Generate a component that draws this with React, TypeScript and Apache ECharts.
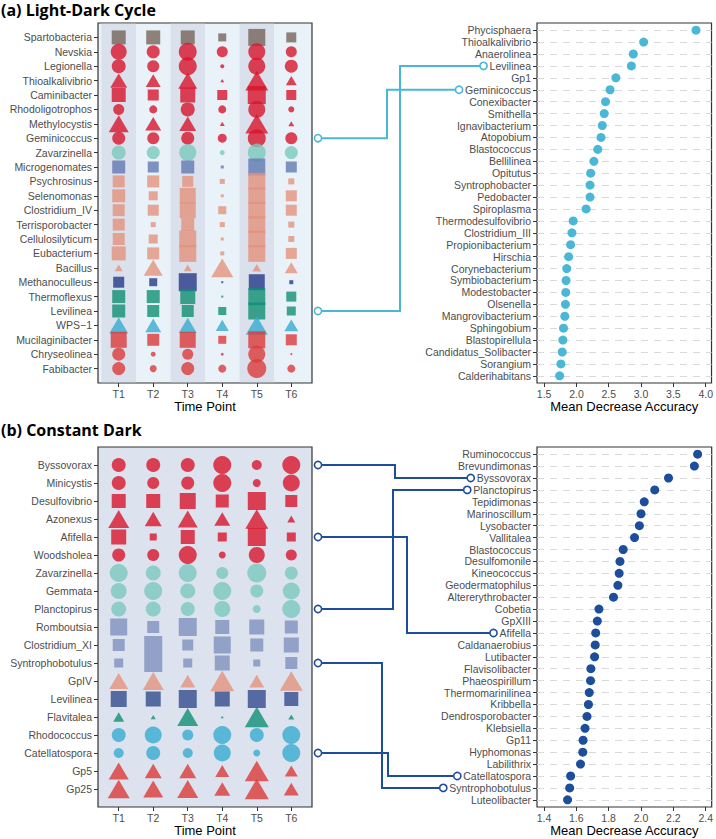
import React, { useEffect, useRef } from 'react';
import * as echarts from 'echarts';

const timePoints = ['T1', 'T2', 'T3', 'T4', 'T5', 'T6'];

// ---------- (a) Light-Dark Cycle ----------
const ldTaxa = [
  'Spartobacteria', 'Nevskia', 'Legionella', 'Thioalkalivibrio', 'Caminibacter', 'Rhodoligotrophos',
  'Methylocystis', 'Geminicoccus', 'Zavarzinella', 'Microgenomates', 'Psychrosinus', 'Selenomonas',
  'Clostridium_IV', 'Terrisporobacter', 'Cellulosilyticum', 'Eubacterium', 'Bacillus', 'Methanoculleus',
  'Thermoflexus', 'Levilinea', 'WPS\u22121', 'Mucilaginibacter', 'Chryseolinea', 'Fabibacter',
];
const ldShapes = [
  'rect', 'circle', 'circle', 'triangle', 'rect', 'circle', 'triangle', 'circle', 'circle', 'rect',
  'rect', 'rect', 'rect', 'rect', 'rect', 'rect', 'triangle', 'rect', 'rect', 'rect', 'triangle',
  'rect', 'circle', 'circle',
];
const ldGroups = [
  'grey', 'crimson', 'crimson', 'crimson', 'crimson', 'crimson', 'crimson', 'crimson', 'mint', 'slate',
  'salmon', 'salmon', 'salmon', 'salmon', 'salmon', 'salmon', 'salmon', 'navy', 'teal', 'teal', 'sky',
  'coral', 'coral', 'coral',
];
// relative abundance (marker size) per time point T1..T6
const ldAbund = [
  [14, 14, 14, 8, 17, 10],
  [16, 13, 18, 11, 17, 11],
  [14, 12, 18, 4, 17, 13],
  [17, 15, 19, 4, 23, 11],
  [14, 11, 15, 10, 18, 10],
  [11, 8, 14, 8, 17, 6],
  [20, 16, 17, 5, 23, 6],
  [13, 12, 13, 9, 18, 12],
  [14, 13, 17, 5, 18, 13],
  [13, 11, 13, 3, 17, 11],
  [12, 12, 11, 5, 17, 6],
  [13, 9, 16, 3, 17, 11],
  [12, 11, 16, 8, 17, 11],
  [12, 5, 13, 5, 17, 6],
  [12, 9, 17, 3, 17, 6],
  [14, 12, 17, 4, 17, 11],
  [8, 19, 8, 22, 9, 13],
  [11, 8, 18, 2, 16, 4],
  [13, 13, 15, 2, 17, 10],
  [13, 12, 12, 8, 17, 9],
  [19, 16, 18, 13, 22, 14],
  [16, 12, 16, 8, 17, 11],
  [13, 5, 11, 3, 17, 2],
  [13, 7, 13, 8, 19, 8],
];
const ldImpTaxa = [
  'Phycisphaera', 'Thioalkalivibrio', 'Anaerolinea', 'Levilinea', 'Gp1', 'Geminicoccus', 'Conexibacter',
  'Smithella', 'Ignavibacterium', 'Atopobium', 'Blastococcus', 'Bellilinea', 'Opitutus', 'Syntrophobacter',
  'Pedobacter', 'Spiroplasma', 'Thermodesulfovibrio', 'Clostridium_III', 'Propionibacterium', 'Hirschia',
  'Corynebacterium', 'Symbiobacterium', 'Modestobacter', 'Olsenella', 'Mangrovibacterium', 'Sphingobium',
  'Blastopirellula', 'Candidatus_Solibacter', 'Sorangium', 'Calderihabitans',
];
const ldImp = [
  3.85, 3.04, 2.88, 2.85, 2.61, 2.52, 2.45, 2.43, 2.40, 2.38, 2.33, 2.27, 2.22, 2.21, 2.21, 2.15, 1.95,
  1.93, 1.91, 1.88, 1.85, 1.84, 1.835, 1.83, 1.82, 1.80, 1.79, 1.78, 1.76, 1.74,
];
const ldImpTicks = [1.5, 2.0, 2.5, 3.0, 3.5, 4.0];
const ldLinks = [
  { taxon: 'Geminicoccus', elbowX: 387 },
  { taxon: 'Levilinea', elbowX: 400 },
];

// ---------- (b) Constant Dark ----------
const cdTaxa = [
  'Byssovorax', 'Minicystis', 'Desulfovibrio', 'Azonexus', 'Afifella', 'Woodsholea', 'Zavarzinella',
  'Gemmata', 'Planctopirus', 'Romboutsia', 'Clostridium_XI', 'Syntrophobotulus', 'GpIV', 'Levilinea',
  'Flavitalea', 'Rhodococcus', 'Catellatospora', 'Gp5', 'Gp25',
];
const cdShapes = [
  'circle', 'circle', 'rect', 'triangle', 'rect', 'circle', 'circle', 'circle', 'circle', 'rect', 'rect',
  'rect', 'triangle', 'rect', 'triangle', 'circle', 'circle', 'triangle', 'triangle',
];
const cdGroups = [
  'crimson', 'crimson', 'crimson', 'crimson', 'crimson', 'crimson', 'mint', 'mint', 'mint', 'slateLight',
  'slateLight', 'slateLight', 'salmon', 'navyLight', 'teal', 'sky', 'sky', 'coral', 'coral',
];
const cdAbund = [
  [14, 14, 14, 18, 10, 18],
  [14, 12, 13, 18, 8, 17],
  [14, 14, 16, 13, 18, 12],
  [21, 17, 20, 16, 23, 8],
  [15, 7, 14, 9, 18, 9],
  [13, 12, 18, 7, 16, 11],
  [18, 15, 18, 12, 19, 13],
  [16, 18, 15, 18, 13, 17],
  [15, 15, 14, 16, 8, 18],
  [17, 12, 18, 14, 15, 13],
  [12, 18, 11, 17, 13, 15],
  [9, 18, 9, 15, 7, 12],
  [19, 21, 15, 24, 15, 23],
  [16, 15, 18, 15, 18, 14],
  [11, 5, 21, 3, 24, 6],
  [14, 17, 11, 18, 14, 18],
  [10, 14, 10, 17, 7, 18],
  [20, 17, 17, 14, 24, 13],
  [22, 20, 21, 16, 24, 15],
];
const cdImpTaxa = [
  'Ruminococcus', 'Brevundimonas', 'Byssovorax', 'Planctopirus', 'Tepidimonas', 'Marinoscillum',
  'Lysobacter', 'Vallitalea', 'Blastococcus', 'Desulfomonile', 'Kineococcus', 'Geodermatophilus',
  'Altererythrobacter', 'Cobetia', 'GpXIII', 'Afifella', 'Caldanaerobius', 'Lutibacter', 'Flavisolibacter',
  'Phaeospirillum', 'Thermomarinilinea', 'Kribbella', 'Dendrosporobacter', 'Klebsiella', 'Gp11',
  'Hyphomonas', 'Labilithrix', 'Catellatospora', 'Syntrophobotulus', 'Luteolibacter',
];
const cdImp = [
  2.35, 2.33, 2.17, 2.085, 2.02, 2.0, 1.99, 1.96, 1.89, 1.87, 1.865, 1.857, 1.83, 1.74, 1.73, 1.72,
  1.717, 1.713, 1.69, 1.688, 1.68, 1.675, 1.666, 1.654, 1.642, 1.64, 1.626, 1.565, 1.559, 1.546,
];
const cdImpTicks = [1.4, 1.6, 1.8, 2.0, 2.2, 2.4];
const cdLinks = [
  { taxon: 'Byssovorax', elbowX: 395 },
  { taxon: 'Afifella', elbowX: 407 },
  { taxon: 'Planctopirus', elbowX: 393 },
  { taxon: 'Syntrophobotulus', elbowX: 382 },
  { taxon: 'Catellatospora', elbowX: 388 },
];

// ---------- styles ----------
const palette: Record<string, string> = {
  grey: '#75645a',
  crimson: '#d8142c',
  mint: '#7cc8be',
  slate: '#6279b2',
  slateLight: '#7e90be',
  salmon: '#e3927d',
  navy: '#243a8a',
  navyLight: '#334b8c',
  teal: '#0f8e73',
  sky: '#37abcf',
  coral: '#dc3a3a',
};
const FONT = '"Liberation Sans", Arial, sans-serif';
const LABEL_GREY = '#4d4d4d';
const LABEL_SIZE = 10.5;
const Y_LABEL_MARGIN = 6;
const LD_LINK = '#4ab7d7';
const CD_LINK = '#1d4e9b';

const GRID_TOP_A = 23;
const GRID_TOP_B = 447;
const GRID_H = 360;
const LEFT_X = 98;
const LEFT_W = 214;
const RIGHT_X = 537;
const RIGHT_W = 177;

const BUB_XMIN = 0.4;
const BUB_XMAX = 6.6;
const LD_XMIN = 1.39;
const LD_XMAX = 4.09;
const CD_XMIN = 1.357;
const CD_XMAX = 2.437;

function bubbleData(shapes: string[], groups: string[], abund: number[][]) {
  const out: any[] = [];
  abund.forEach((row, r) => {
    row.forEach((s, c) => {
      const sym = shapes[r];
      out.push({
        value: [c + 1, r],
        symbol: sym,
        symbolSize: sym === 'triangle' ? [s, s * 0.85] : s,
        itemStyle: { color: palette[groups[r]], opacity: 0.8 },
      });
    });
  });
  return out;
}

const seq = (n: number) => Array.from({ length: n }, (_, i) => i);
const tickStyle = { show: true, length: 4, lineStyle: { color: '#333' } };

function bubbleXAxis(gridIndex: number) {
  const vals = timePoints.map((_, i) => i + 1);
  return {
    type: 'value', gridIndex, min: BUB_XMIN, max: BUB_XMAX,
    axisLine: { show: false, onZero: false },
    splitLine: { show: false },
    axisTick: { ...tickStyle, customValues: vals },
    axisLabel: {
      customValues: vals, formatter: (v: number) => timePoints[Math.round(v) - 1] || '',
      color: LABEL_GREY, fontSize: LABEL_SIZE, fontFamily: FONT, margin: 5,
    },
    name: 'Time Point', nameLocation: 'middle', nameGap: 17,
    nameTextStyle: { color: '#000', fontSize: 13, fontFamily: FONT },
  };
}
function bubbleYAxis(gridIndex: number, taxa: string[]) {
  const vals = seq(taxa.length);
  return {
    type: 'value', gridIndex, min: -1, max: taxa.length, inverse: true,
    axisLine: { show: false, onZero: false },
    splitLine: { show: false },
    axisTick: { ...tickStyle, customValues: vals },
    axisLabel: {
      customValues: vals, formatter: (v: number) => taxa[Math.round(v)] || '',
      color: LABEL_GREY, fontSize: LABEL_SIZE, fontFamily: FONT, margin: Y_LABEL_MARGIN,
    },
  };
}
function impXAxis(gridIndex: number, min: number, max: number, ticks: number[]) {
  return {
    type: 'value', gridIndex, min, max,
    axisLine: { show: false, onZero: false },
    splitLine: { show: false },
    axisTick: { ...tickStyle, customValues: ticks },
    axisLabel: {
      customValues: ticks, formatter: (v: number) => v.toFixed(1),
      color: LABEL_GREY, fontSize: LABEL_SIZE, fontFamily: FONT, margin: 5,
    },
    name: 'Mean Decrease Accuracy', nameLocation: 'middle', nameGap: 17,
    nameTextStyle: { color: '#000', fontSize: 13, fontFamily: FONT },
  };
}
function impYAxis(gridIndex: number, taxa: string[]) {
  const vals = seq(taxa.length);
  return {
    type: 'value', gridIndex, min: -0.6, max: taxa.length - 1 + 0.6, inverse: true,
    axisLine: { show: false, onZero: false },
    splitLine: { show: false },
    axisTick: { ...tickStyle, customValues: vals },
    axisLabel: {
      customValues: vals, formatter: (v: number) => taxa[Math.round(v)] || '',
      color: LABEL_GREY, fontSize: LABEL_SIZE, fontFamily: FONT, margin: Y_LABEL_MARGIN,
    },
  };
}
function gridLines(idx: number, taxa: string[]) {
  return {
    type: 'scatter', xAxisIndex: idx, yAxisIndex: idx, data: [], z: 1, silent: true,
    markLine: {
      z: 1,
      silent: true, symbol: ['none', 'none'], label: { show: false },
      lineStyle: { color: '#d9d9d9', type: [7, 6], width: 1.2 },
      emphasis: { disabled: true },
      data: taxa.map((_, i) => ({ yAxis: i })),
    },
  };
}

function buildOption() {
  const insetX = 0.03;
  const insetY = 0.05;
  const stripes = timePoints
    .map((_, i) => i)
    .filter((i) => i % 2 === 0)
    .map((i) => [
      { coord: [Math.max(i + 0.5, BUB_XMIN + insetX), -1 + insetY] },
      { coord: [i + 1.5, ldTaxa.length - insetY] },
    ]);
  const gridBase = { show: true, borderColor: '#333', borderWidth: 1.2, containLabel: false };
  const titleStyle = { fontFamily: '"Open Sans", sans-serif', fontWeight: 'bold', fontSize: 16, color: '#000' };
  return {
    animation: false,
    backgroundColor: '#ffffff',
    title: [
      { text: '(a) Light-Dark Cycle', left: 1, top: 2, padding: 0, textStyle: titleStyle },
      { text: '(b) Constant Dark', left: 1, top: 422, padding: 0, textStyle: titleStyle },
    ],
    grid: [
      { ...gridBase, left: LEFT_X, top: GRID_TOP_A, width: LEFT_W, height: GRID_H, backgroundColor: '#e8f2f8' },
      { ...gridBase, left: RIGHT_X, top: GRID_TOP_A, width: RIGHT_W, height: GRID_H, backgroundColor: '#ffffff' },
      { ...gridBase, left: LEFT_X, top: GRID_TOP_B, width: LEFT_W, height: GRID_H, backgroundColor: '#dde3ee' },
      { ...gridBase, left: RIGHT_X, top: GRID_TOP_B, width: RIGHT_W, height: GRID_H, backgroundColor: '#ffffff' },
    ],
    xAxis: [
      bubbleXAxis(0),
      impXAxis(1, LD_XMIN, LD_XMAX, ldImpTicks),
      bubbleXAxis(2),
      impXAxis(3, CD_XMIN, CD_XMAX, cdImpTicks),
    ],
    yAxis: [
      bubbleYAxis(0, ldTaxa),
      impYAxis(1, ldImpTaxa),
      bubbleYAxis(2, cdTaxa),
      impYAxis(3, cdImpTaxa),
    ],
    series: [
      {
        type: 'scatter', xAxisIndex: 0, yAxisIndex: 0, data: [], z: 1, silent: true,
        markArea: { silent: true, itemStyle: { color: '#dae1ec' }, data: stripes },
      },
      {
        type: 'scatter', xAxisIndex: 0, yAxisIndex: 0, z: 6, silent: true,
        data: bubbleData(ldShapes, ldGroups, ldAbund),
      },
      gridLines(1, ldImpTaxa),
      {
        type: 'scatter', xAxisIndex: 1, yAxisIndex: 1, z: 6, silent: true, symbolSize: 9,
        itemStyle: { color: LD_LINK, opacity: 1 },
        data: ldImp.map((v, i) => [v, i]),
      },
      {
        type: 'scatter', xAxisIndex: 2, yAxisIndex: 2, z: 6, silent: true,
        data: bubbleData(cdShapes, cdGroups, cdAbund),
      },
      gridLines(3, cdImpTaxa),
      {
        type: 'scatter', xAxisIndex: 3, yAxisIndex: 3, z: 6, silent: true, symbolSize: 9,
        itemStyle: { color: CD_LINK, opacity: 1 },
        data: cdImp.map((v, i) => [v, i]),
      },
    ],
  };
}

export default function App() {
  const ref = useRef<HTMLDivElement>(null);
  useEffect(() => {
    if (!ref.current) return;
    const chart = echarts.init(ref.current, null, { renderer: 'svg' });
    chart.setOption(buildOption() as any);

    const canvas = document.createElement('canvas');
    const ctx = canvas.getContext('2d')!;
    ctx.font = `${LABEL_SIZE}px "Liberation Sans"`;
    const graphics: any[] = [];
    const addLinks = (
      links: { taxon: string; elbowX: number }[], leftGrid: number, rightGrid: number,
      leftTaxa: string[], rightTaxa: string[], color: string, rightXMin: number,
    ) => {
      links.forEach((l) => {
        const li = leftTaxa.indexOf(l.taxon);
        const ri = rightTaxa.indexOf(l.taxon);
        const p0 = chart.convertToPixel({ gridIndex: leftGrid } as any, [BUB_XMAX, li]) as number[];
        const p1 = chart.convertToPixel({ gridIndex: rightGrid } as any, [rightXMin, ri]) as number[];
        const w = ctx.measureText(l.taxon).width;
        const xs = p0[0] + 6;
        const xe = p1[0] - Y_LABEL_MARGIN - w - 6;
        graphics.push({
          type: 'polyline', silent: true, z: 10,
          shape: { points: [[xs, p0[1]], [l.elbowX, p0[1]], [l.elbowX, p1[1]], [xe, p1[1]]] },
          style: { stroke: color, lineWidth: 2, fill: null },
        });
        graphics.push({
          type: 'circle', silent: true, z: 11, shape: { cx: xs, cy: p0[1], r: 3.6 },
          style: { fill: '#fff', stroke: color, lineWidth: 1.6 },
        });
        graphics.push({
          type: 'circle', silent: true, z: 11, shape: { cx: xe, cy: p1[1], r: 3.6 },
          style: { fill: '#fff', stroke: color, lineWidth: 1.6 },
        });
      });
    };
    addLinks(ldLinks, 0, 1, ldTaxa, ldImpTaxa, LD_LINK, LD_XMIN);
    addLinks(cdLinks, 2, 3, cdTaxa, cdImpTaxa, CD_LINK, CD_XMIN);
    chart.setOption({ graphic: graphics } as any);

    return () => chart.dispose();
  }, []);
  return (
    <div
      ref={ref}
      style={{ position: 'absolute', left: 0, top: 0, width: 716, height: 839 }}
    />
  );
}
